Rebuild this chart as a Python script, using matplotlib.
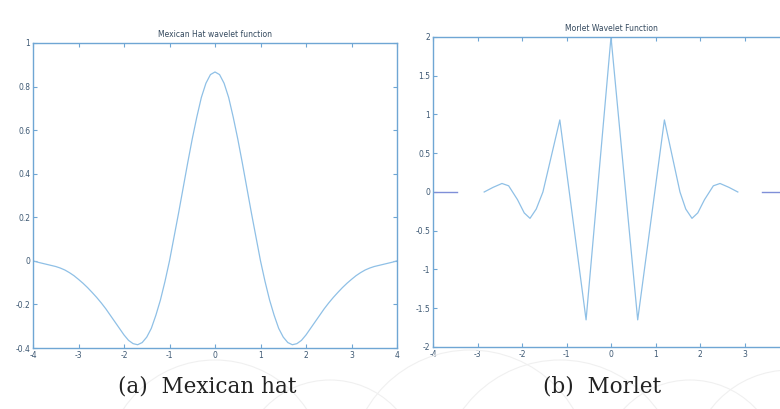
import matplotlib
matplotlib.use("Agg")
import matplotlib.pyplot as plt
from matplotlib.patches import Arc

# ---- data ----
hat_x = [-4.0, -3.9, -3.8, -3.7, -3.6, -3.5, -3.4, -3.3, -3.2, -3.1, -3.0, -2.9, -2.8, -2.7,
         -2.6, -2.5, -2.4, -2.3, -2.2, -2.1, -2.0, -1.9, -1.8, -1.7, -1.6, -1.5, -1.4, -1.3,
         -1.2, -1.1, -1.0, -0.9, -0.8, -0.7, -0.6, -0.5, -0.4, -0.3, -0.2, -0.1, 0.0,
         0.1, 0.2, 0.3, 0.4, 0.5, 0.6, 0.7, 0.8, 0.9, 1.0, 1.1, 1.2, 1.3, 1.4, 1.5, 1.6,
         1.7, 1.8, 1.9, 2.0, 2.1, 2.2, 2.3, 2.4, 2.5, 2.6, 2.7, 2.8, 2.9, 3.0, 3.1, 3.2,
         3.3, 3.4, 3.5, 3.6, 3.7, 3.8, 3.9, 4.0]
hat_y = [0.000, -0.006, -0.011, -0.016, -0.021, -0.026, -0.033, -0.042, -0.054, -0.068,
         -0.085, -0.103, -0.123, -0.145, -0.168, -0.193, -0.220, -0.250, -0.280, -0.310,
         -0.340, -0.365, -0.380, -0.385, -0.375, -0.350, -0.310, -0.250, -0.180, -0.095,
         0.000, 0.110, 0.220, 0.335, 0.450, 0.560, 0.660, 0.750, 0.815, 0.855, 0.867,
         0.855, 0.815, 0.750, 0.660, 0.560, 0.450, 0.335, 0.220, 0.110, 0.000,
         -0.095, -0.180, -0.250, -0.310, -0.350, -0.375, -0.385, -0.380, -0.365, -0.340,
         -0.310, -0.280, -0.250, -0.220, -0.193, -0.168, -0.145, -0.123, -0.103, -0.085,
         -0.068, -0.054, -0.042, -0.033, -0.026, -0.021, -0.016, -0.011, -0.006, 0.000]

morlet_x = [-2.85, -2.65, -2.45, -2.3, -2.1, -1.95, -1.82, -1.68, -1.53, -1.15, -0.56, 0.0,
            0.6, 1.2, 1.55, 1.68, 1.82, 1.95, 2.1, 2.3, 2.45, 2.65, 2.85]
morlet_y = [0.00, 0.06, 0.11, 0.08, -0.10, -0.27, -0.34, -0.22, 0.00, 0.93, -1.65, 2.00,
            -1.65, 0.93, 0.00, -0.22, -0.34, -0.27, -0.10, 0.08, 0.11, 0.06, 0.00]
edge_left_x = [-4.0, -3.45]
edge_left_y = [0.0, 0.0]
edge_right_x = [3.4, 4.0]
edge_right_y = [0.0, 0.0]

hat_yticks = [-0.4, -0.2, 0, 0.2, 0.4, 0.6, 0.8, 1]
hat_yticklabels = ["-0.4", "-0.2", "0", "0.2", "0.4", "0.6", "0.8", "1"]
hat_xticks = [-4, -3, -2, -1, 0, 1, 2, 3, 4]
hat_xticklabels = ["-4", "-3", "-2", "-1", "0", "1", "2", "3", "4"]
mor_yticks = [-2, -1.5, -1, -0.5, 0, 0.5, 1, 1.5, 2]
mor_yticklabels = ["-2", "-1.5", "-1", "-0.5", "0", "0.5", "1", "1.5", "2"]
mor_xticks = [-4, -3, -2, -1, 0, 1, 2, 3, 4]
mor_xticklabels = ["-4", "-3", "-2", "-1", "0", "1", "2", "3", ""]

titles = ["Mexican Hat wavelet function", "Morlet Wavelet Function"]
captions = ["(a)  Mexican hat", "(b)  Morlet"]

W, H = 780, 409
fig = plt.figure(figsize=(W / 100, H / 100), dpi=100)
fig.patch.set_facecolor("white")

# faint watermark arcs at the bottom
wm = "#f0f0f0"
for (cx, cy, r) in [(215, 470, 110), (330, 470, 90), (470, 470, 120), (560, 480, 120),
                    (690, 470, 90), (790, 470, 100)]:
    fig.patches.append(Arc((cx / W, 1 - cy / H), 2 * r / W, 2 * r / H, theta1=0, theta2=180,
                           transform=fig.transFigure, color=wm, lw=0.8))

spine_c = "#6fa6d4"
line_c = "#8fc0e6"
tick_c = "#3d5873"


def style(ax):
    for s in ax.spines.values():
        s.set_color(spine_c)
        s.set_linewidth(1.0)
    ax.tick_params(direction="in", length=3, width=0.8, color=spine_c, labelsize=5.5,
                   labelcolor=tick_c, top=True, right=True, pad=2)


ax1 = fig.add_axes([33 / W, 1 - 348 / H, 364 / W, 305 / H])
ax1.plot(hat_x, hat_y, color=line_c, lw=0.9)
ax1.set_xlim(-4, 4)
ax1.set_ylim(-0.4, 1)
ax1.set_yticks(hat_yticks)
ax1.set_yticklabels(hat_yticklabels)
ax1.set_xticks(hat_xticks)
ax1.set_xticklabels(hat_xticklabels)
style(ax1)
ax1.set_title(titles[0], fontsize=5.5, color="#34495e", pad=4)

ax2 = fig.add_axes([433 / W, 1 - 347 / H, 356 / W, 310 / H])
ax2.plot(morlet_x, morlet_y, color=line_c, lw=0.9)
ax2.plot(edge_left_x, edge_left_y, color="#7f8fd8", lw=1.0)
ax2.plot(edge_right_x, edge_right_y, color="#7f8fd8", lw=1.0)
ax2.set_xlim(-4, 4)
ax2.set_ylim(-2, 2)
ax2.set_yticks(mor_yticks)
ax2.set_yticklabels(mor_yticklabels)
ax2.set_xticks(mor_xticks)
ax2.set_xticklabels(mor_xticklabels)
style(ax2)
ax2.set_title(titles[1], fontsize=5.5, color="#34495e", pad=4)

fig.text(207 / W, 1 - 386 / H, captions[0], ha="center", va="center",
         fontsize=15.5, family="DejaVu Serif", color="#222222")
fig.text(602 / W, 1 - 386 / H, captions[1], ha="center", va="center",
         fontsize=15.5, family="DejaVu Serif", color="#222222")

fig.savefig("out.png", dpi=100, facecolor="white")
